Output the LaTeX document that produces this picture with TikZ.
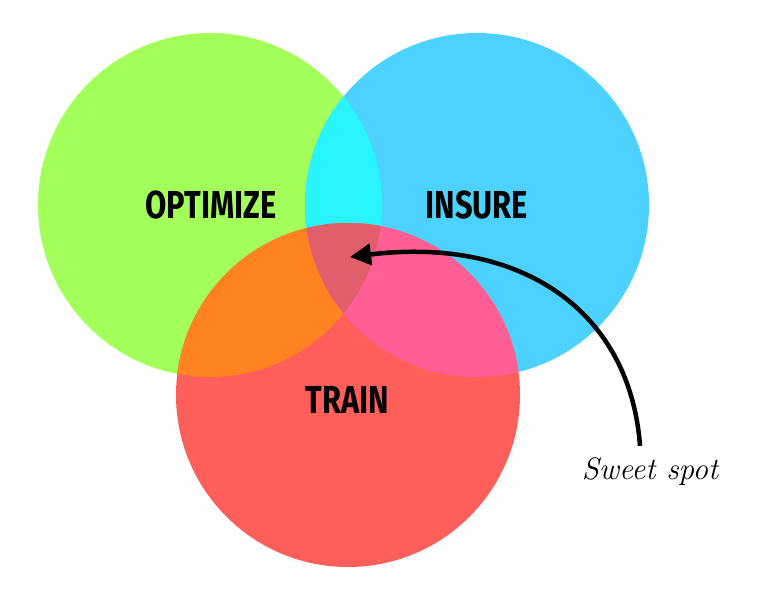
\documentclass[tikz,border=0pt]{standalone}
\usepackage{fontspec}
\setsansfont{Fira Sans}
\usetikzlibrary{arrows.meta, positioning}
\definecolor{optgreen}{HTML}{A3FF5A}
\definecolor{insblue}{HTML}{4DD2FF}
\definecolor{trnred}{HTML}{FF5F5A}
\definecolor{gbcyan}{HTML}{29F5FF}
\definecolor{grorange}{HTML}{FF8320}
\definecolor{brpink}{HTML}{FF5F95}
\definecolor{allrose}{HTML}{E05F6A}
\tikzset{
  setlabel/.style = {font=\sffamily\bfseries\fontsize{39}{39}\selectfont,
                     xscale=0.79, text=black, inner sep=0pt},
  handnote/.style = {font=\rmfamily\itshape\fontsize{31}{31}\selectfont,
                     inner sep=0pt},
  pointer/.style  = {-{Triangle[length=21pt, width=21pt]}, line width=4.5pt},
}

\begin{document}
\begin{tikzpicture}[x=1pt, y=-1pt]
    \useasboundingbox (0,0) rectangle (769,610);
    \coordinate (gc) at (210,205);
    \coordinate (bc) at (477,205);
    \coordinate (rc) at (348,395);

    % the three sets
    \fill[optgreen] (gc) circle (172pt);
    \fill[insblue]  (bc) circle (172pt);
    \fill[trnred]   (rc) circle (172pt);

    % overlaps
    \begin{scope}
      \clip (gc) circle (172pt);
      \fill[gbcyan]   (bc) circle (172pt);
      \fill[grorange] (rc) circle (172pt);
    \end{scope}
    \begin{scope}
      \clip (bc) circle (172pt);
      \fill[brpink] (rc) circle (172pt);
      \clip (gc) circle (172pt);
      \fill[allrose] (rc) circle (172pt);
    \end{scope}

    \node[setlabel] (opt) at (211,205) {OPTIMIZE};
    \node[setlabel] (ins) at (477,205) {INSURE};
    \node[setlabel] (trn) at (347,400) {TRAIN};

    \coordinate (spot) at (350,257);
    \node[handnote] (sweet) at (650,472) {Sweet spot};
    \draw[pointer] (sweet.north) ++(-10,-12)
      .. controls (630,310) and (520,236) .. (spot);
  \end{tikzpicture}
\end{document}
